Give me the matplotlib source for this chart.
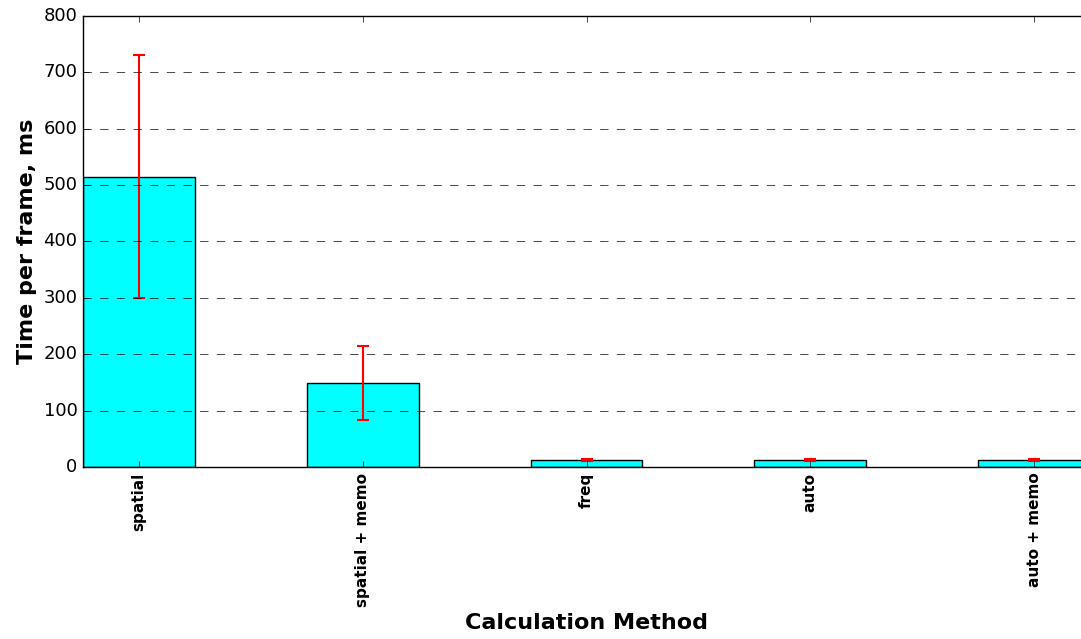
import numpy as np
import matplotlib
matplotlib.use('Agg')
import matplotlib.pyplot as plt

plt.style.use('classic')

# measured time per frame (ms)
methods = ['spatial', 'spatial + memo', 'freq', 'auto', 'auto + memo']
mean_ms = [515, 149, 12, 12, 12]
std_ms = [216, 66, 1.5, 1.5, 1.5]

fig = plt.figure(figsize=(10.81, 6.39), dpi=100)
ax = fig.add_axes([0.0768, 0.2692, 0.9316, 0.7058])

x = np.arange(len(methods))
ax.bar(x, mean_ms, width=0.5, align='center', color='cyan', edgecolor='k',
       yerr=std_ms, error_kw=dict(ecolor='r', elinewidth=1.5, capthick=1.5, capsize=4),
       zorder=1)
ax.set_xlim(-0.25, 4.25)
ax.set_ylim(0, 800)
ax.yaxis.grid(True, linestyle='--', color='k', zorder=2)
ax.set_axisbelow(False)
ax.set_xticks(x)
ax.set_xticklabels(methods, rotation=90, fontweight='bold', fontsize=11)
ax.tick_params(axis='y', labelsize=13)
ax.set_xlabel('Calculation Method', fontweight='bold', fontsize=16)
ax.set_ylabel('Time per frame, ms', fontweight='bold', fontsize=16)

fig.savefig('out.png', dpi=100)
